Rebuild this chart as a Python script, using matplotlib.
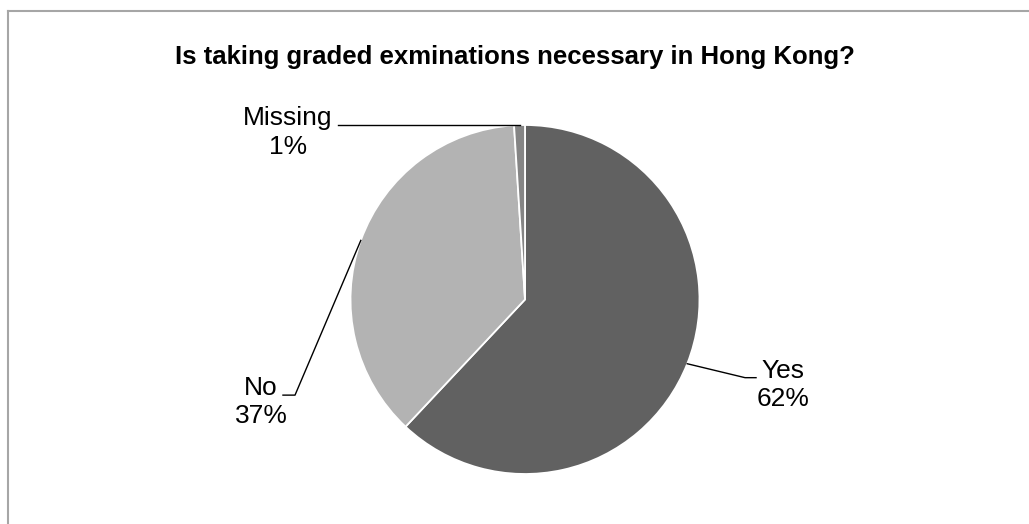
import numpy as np
import matplotlib
matplotlib.use('Agg')
import matplotlib.pyplot as plt
from matplotlib.lines import Line2D

plt.rcParams['font.family'] = ['Liberation Sans', 'DejaVu Sans']

title = 'Is taking graded exminations necessary in Hong Kong?'
labels = ['Yes', 'No', 'Missing']
shares = [62, 37, 1]
colors = ['#616161', '#b3b3b3', '#858585']

# label block centres and leader elbows (in pie-radius units)
text_pos = [(1.479, -0.49), (-1.513, -0.587), (-1.358, 0.957)]
elbows = [[(1.261, -0.448), (1.324, -0.448)],
          [(-1.318, -0.548), (-1.387, -0.548)],
          [(-1.072, 1.0)]]

fig = plt.figure(figsize=(10.29, 5.24), dpi=100)
ax = fig.add_axes([0, 0, 1, 1])

wedges, _ = ax.pie(shares, colors=colors, startangle=90, counterclock=False,
                   wedgeprops=dict(edgecolor='white', linewidth=1.3))

for w, lab, val, tp, el in zip(wedges, labels, shares, text_pos, elbows):
    ang = np.deg2rad((w.theta1 + w.theta2) / 2)
    x0, y0 = np.cos(ang), np.sin(ang)
    if len(el) == 1:
        pts = [(x0, y0), (el[0][0], y0)]
    else:
        pts = [(x0, y0)] + el
    xs, ys = zip(*pts)
    ax.plot(xs, ys, color='black', lw=1.0)
    ax.text(tp[0], tp[1], f'{lab}\n{val}%', ha='center', va='center',
            fontsize=19, linespacing=1.25)

ax.set_xlim(-525 / 174.5, (1029 - 525) / 174.5)
ax.set_ylim(-(524 - 299.5) / 174.5, 299.5 / 174.5)
ax.set_aspect('auto')
ax.axis('off')

fig.text(0.5, 1 - 57 / 524, title, ha='center', va='center',
         fontsize=18.5, fontweight='bold')

fig.add_artist(Line2D([7.5 / 1029, 7.5 / 1029], [0, 1 - 11 / 524],
                      color='#a6a6a6', lw=1.5, transform=fig.transFigure))
fig.add_artist(Line2D([7.5 / 1029, 1], [1 - 11 / 524, 1 - 11 / 524],
                      color='#a6a6a6', lw=1.5, transform=fig.transFigure))

fig.savefig('out.png', dpi=100)
